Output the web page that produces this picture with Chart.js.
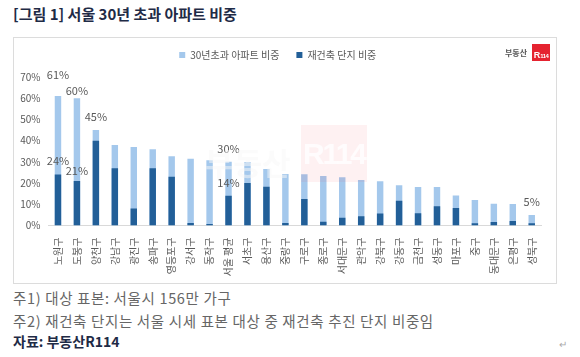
<!DOCTYPE html>
<html><head><meta charset="utf-8">
<script src="https://cdn.jsdelivr.net/npm/chart.js@4.4.0/dist/chart.umd.min.js"></script>
<style>
html,body{margin:0;padding:0;background:#fff;width:580px;height:357px;overflow:hidden;font-family:"Noto Sans CJK KR","Noto Sans",sans-serif;}
#title{position:absolute;left:13px;top:4px;font-size:15px;line-height:20px;font-weight:bold;color:#1f2b46;white-space:nowrap;}
#frame{position:absolute;left:13px;top:37px;width:542px;height:245px;border:1px solid #dcdcdc;background:#fff;}
#wrap{position:absolute;left:13px;top:33px;width:543px;height:250px;}
.note{position:absolute;left:13px;font-size:14.5px;line-height:20px;letter-spacing:0.65px;color:#666;white-space:nowrap;}
#src{font-weight:bold;color:#1f2b46;letter-spacing:0;font-size:14px;}
#wmtxt{position:absolute;left:205px;top:142px;font-size:31px;line-height:40px;font-weight:bold;color:rgba(248,248,248,0.5);white-space:nowrap;}
#wmbox{position:absolute;left:301px;top:125px;width:66px;height:57px;background:rgba(240,60,70,0.07);color:rgba(255,255,255,0.8);font-family:"Liberation Sans",sans-serif;font-weight:bold;font-size:30px;line-height:57px;text-align:center;letter-spacing:-2px;white-space:nowrap;overflow:hidden;}
#logotxt{position:absolute;left:505px;top:46px;font-size:8px;line-height:14px;font-weight:bold;color:#555;white-space:nowrap;}
#logobox{position:absolute;left:532px;top:44px;width:18px;height:17px;background:#e52330;color:#fff;font-family:"Liberation Sans",sans-serif;font-weight:bold;line-height:17px;text-align:center;white-space:nowrap;overflow:hidden;}
#logobox .r{font-size:9px;}
#logobox .n{font-size:6px;letter-spacing:-0.5px;}
#ret{position:absolute;left:559px;top:337px;font-size:10px;line-height:14px;color:#aaa;}
</style>
</head><body>
<div id="title">[그림 1] 서울 30년 초과 아파트 비중</div>
<div id="frame"></div>
<div id="wrap"><canvas id="c" width="543" height="250"></canvas></div>
<div id="wmtxt">부동산</div>
<div id="wmbox">R114</div>
<div id="logotxt">부동산</div>
<div id="logobox"><span class="r">R</span><span class="n">114</span></div>
<div class="note" style="top:288px">주1) 대상 표본: 서울시 156만 가구</div>
<div class="note" style="top:311px">주2) 재건축 단지는 서울 시세 표본 대상 중 재건축 추진 단지 비중임</div>
<div class="note" id="src" style="top:331px">자료: 부동산R114</div>
<div id="ret">↵</div>
<script>
const categories = ['노원구','도봉구','양천구','강남구','광진구','송파구','영등포구','강서구','동작구','서울 평균','서초구','용산구','중랑구','구로구','종로구','서대문구','관악구','강북구','강동구','금천구','성동구','마포구','중구','동대문구','은평구','성북구'];
const over30 = [61,60,45,38,37,36,32.6,31.5,30.7,30,29.9,26.6,24.3,24.1,23.3,22.7,21.5,20.8,19.0,18.2,18.2,14.2,12.0,10.3,10.1,5];
const rebuild = [24,21,40,27,8,27,23,1.2,0.7,14,20,18.3,1.2,12.5,1.8,3.6,4.4,5.6,11.7,5.8,9.1,8.3,1.1,1.6,2.1,1.1];
const yTicks = [0,10,20,30,40,50,60,70];
const seriesNames = ['30년초과 아파트 비중','재건축 단지 비중'];

const FONT = '"Noto Sans CJK KR","Noto Sans",sans-serif';

const labelPlugin = {
  id: 'vlabels',
  afterDatasetsDraw(chart, args, opts) {
    const ctx = chart.ctx, y = chart.scales.y;
    ctx.save();
    ctx.font = '11px ' + FONT;
    ctx.fillStyle = '#595959';
    ctx.textAlign = 'center';
    ctx.textBaseline = 'middle';
    opts.items.forEach(it => {
      const el = chart.getDatasetMeta(it.ds).data[it.i];
      const v = chart.data.datasets[it.ds].data[it.i];
      ctx.fillText(Math.round(v) + '%', el.x, y.getPixelForValue(v) - it.dy);
    });
    ctx.restore();
  }
};

new Chart(document.getElementById('c'), {
  type: 'bar',
  data: {
    labels: categories,
    datasets: [
      { label: seriesNames[0], data: over30, backgroundColor: '#a4c8ec', grouped: false, order: 2,
        categoryPercentage: 1, barPercentage: 0.34 },
      { label: seriesNames[1], data: rebuild, backgroundColor: '#225f98', grouped: false, order: 1,
        categoryPercentage: 1, barPercentage: 0.34 }
    ]
  },
  options: {
    responsive: false,
    animation: false,
    devicePixelRatio: 1,
    layout: { padding: { left: 0, right: 13.5, top: 0, bottom: 0 } },
    plugins: {
      tooltip: { enabled: false },
      legend: {
        position: 'top', align: 'center',
        labels: { boxWidth: 6, boxHeight: 6, padding: 17, color: '#595959',
          font: { size: 10, family: FONT },
          sort: (a, b) => a.datasetIndex - b.datasetIndex }
      },
      title: { display: true, text: '', position: 'top', weight: 100, padding: 0,
        font: { size: 7, lineHeight: 1 } },
      vlabels: {
        items: [
          { ds: 0, i: 0, dy: 21 }, { ds: 0, i: 1, dy: 7 }, { ds: 0, i: 2, dy: 13 },
          { ds: 0, i: 9, dy: 13 }, { ds: 0, i: 25, dy: 13 },
          { ds: 1, i: 0, dy: 14 }, { ds: 1, i: 1, dy: 10 }, { ds: 1, i: 9, dy: 13 }
        ]
      }
    },
    scales: {
      x: {
        grid: { display: false, drawTicks: false },
        border: { display: true, color: '#d9d9d9' },
        ticks: { autoSkip: false, minRotation: 90, maxRotation: 90, padding: 12, color: '#595959',
          font: { size: 10, family: FONT } },
        afterFit(scale) { scale.height = 57.5; }
      },
      y: {
        min: 0, max: 70,
        grid: { display: false, drawTicks: false },
        border: { display: false },
        afterBuildTicks(scale) { scale.ticks = yTicks.map(v => ({ value: v })); },
        ticks: { padding: 8, color: '#595959', font: { size: 10, family: FONT },
          callback: v => v + '%' },
        afterFit(scale) { scale.width = 35.5; }
      }
    }
  },
  plugins: [labelPlugin]
});
</script>
</body></html>
